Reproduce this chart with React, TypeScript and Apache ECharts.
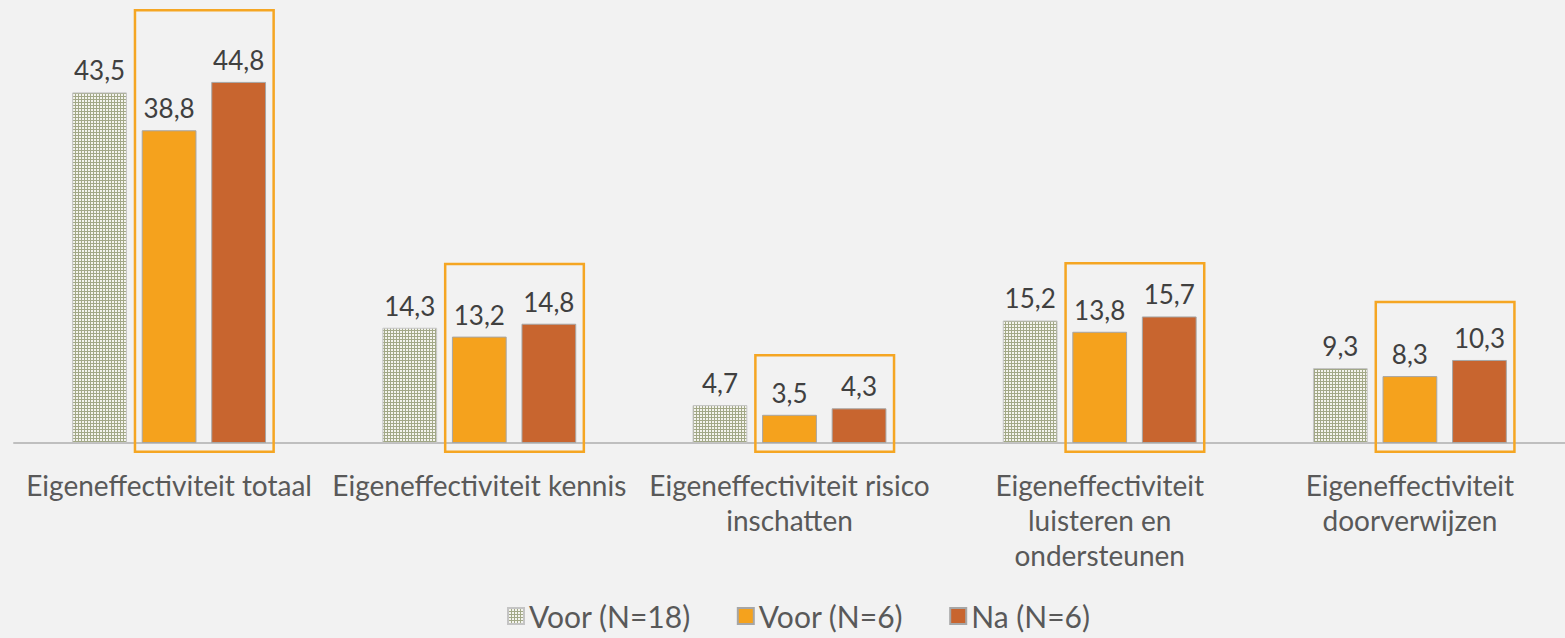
import React, { useEffect, useRef } from "react";
import * as echarts from "echarts";

const categories = [
  "Eigeneffectiviteit totaal",
  "Eigeneffectiviteit kennis",
  "Eigeneffectiviteit risico\ninschatten",
  "Eigeneffectiviteit\nluisteren en\nondersteunen",
  "Eigeneffectiviteit\ndoorverwijzen",
];
const seriesNames = ["Voor (N=18)", "Voor (N=6)", "Na (N=6)"];
const voor18 = [43.5, 14.3, 4.7, 15.2, 9.3];
const voor6 = [38.8, 13.2, 3.5, 13.8, 8.3];
const na6 = [44.8, 14.8, 4.3, 15.7, 10.3];
// top of the orange highlight frame around the N=6 pair, in value units
const frameTops = [53.7, 22.2, 10.9, 22.3, 17.5];
const frameBottom = -1.1;

function makePattern(): string {
  const c = document.createElement("canvas");
  c.width = 3;
  c.height = 3;
  const ctx = c.getContext("2d")!;
  ctx.fillStyle = "#a2a887";
  ctx.fillRect(0, 0, 3, 3);
  ctx.fillStyle = "#f4f4ee";
  ctx.fillRect(1, 1, 2, 2);
  return c.toDataURL();
}

export default function App() {
  const ref = useRef<HTMLDivElement>(null);
  useEffect(() => {
    if (!ref.current) return;
    const chart = echarts.init(ref.current, null, { renderer: "svg" });
    const pattern = { image: makePattern(), repeat: "repeat" } as any;
    const font = "Lato, 'Open Sans', sans-serif";
    const labelStyle = {
      show: true,
      position: "top" as const,
      distance: 9,
      fontSize: 26,
      color: "#404040",
      fontFamily: font,
      formatter: (p: any) => String(p.value).replace(".", ","),
    };
    chart.setOption({
      animation: false,
      backgroundColor: "#f2f2f2",
      grid: { left: 14, width: 1564, top: 40, bottom: 195 },
      legend: {
        top: 594,
        left: 502,
        itemWidth: 16,
        itemHeight: 16,
        itemGap: 46,
        icon: "rect",
        textStyle: { fontSize: 30, lineHeight: 34, color: "#595959", fontFamily: font },
        data: seriesNames.map((n) => ({ name: n })),
      },
      xAxis: {
        type: "category",
        data: categories,
        axisTick: { show: false },
        axisLine: { lineStyle: { color: "#bfbfbf", width: 2 } },
        axisLabel: {
          fontSize: 28,
          color: "#595959",
          fontFamily: font,
          lineHeight: 35,
          margin: 24,
          interval: 0,
        },
      },
      yAxis: {
        type: "value",
        min: 0,
        max: 50,
        show: false,
        splitLine: { show: false },
      },
      series: [
        {
          name: seriesNames[0],
          type: "bar",
          data: voor18,
          barGap: "27%",
          barCategoryGap: "37.5%",
          itemStyle: { color: pattern, borderColor: "#c4c4c4", borderWidth: 1 },
          label: labelStyle,
        },
        {
          name: seriesNames[1],
          type: "bar",
          data: voor6,
          itemStyle: { color: "#f5a21d", borderColor: "#a6a6a6", borderWidth: 1 },
          label: labelStyle,
        },
        {
          name: seriesNames[2],
          type: "bar",
          data: na6,
          itemStyle: { color: "#c8652f", borderColor: "#a6a6a6", borderWidth: 1 },
          label: labelStyle,
        },
        {
          type: "custom",
          silent: true,
          clip: false,
          z: 5,
          data: frameTops.map((t, i) => [i, t]),
          encode: { x: 0, y: 1 },
          renderItem: (params: any, api: any) => {
            const idx = api.value(0);
            const top = api.coord([idx, api.value(1)]);
            const bottom = api.coord([idx, frameBottom]);
            const w = api.size([1, 0])[0];
            const x0 = top[0] - w * 0.11;
            const x1 = top[0] + w * 0.337;
            return {
              type: "rect",
              shape: { x: x0, y: top[1], width: x1 - x0, height: bottom[1] - top[1] },
              style: { fill: "none", stroke: "#f5a623", lineWidth: 2.5 },
            };
          },
        },
      ],
    });
    return () => chart.dispose();
  }, []);
  return (
    <div
      ref={ref}
      style={{ position: "fixed", left: 0, top: 0, width: 1565, height: 638 }}
    />
  );
}
